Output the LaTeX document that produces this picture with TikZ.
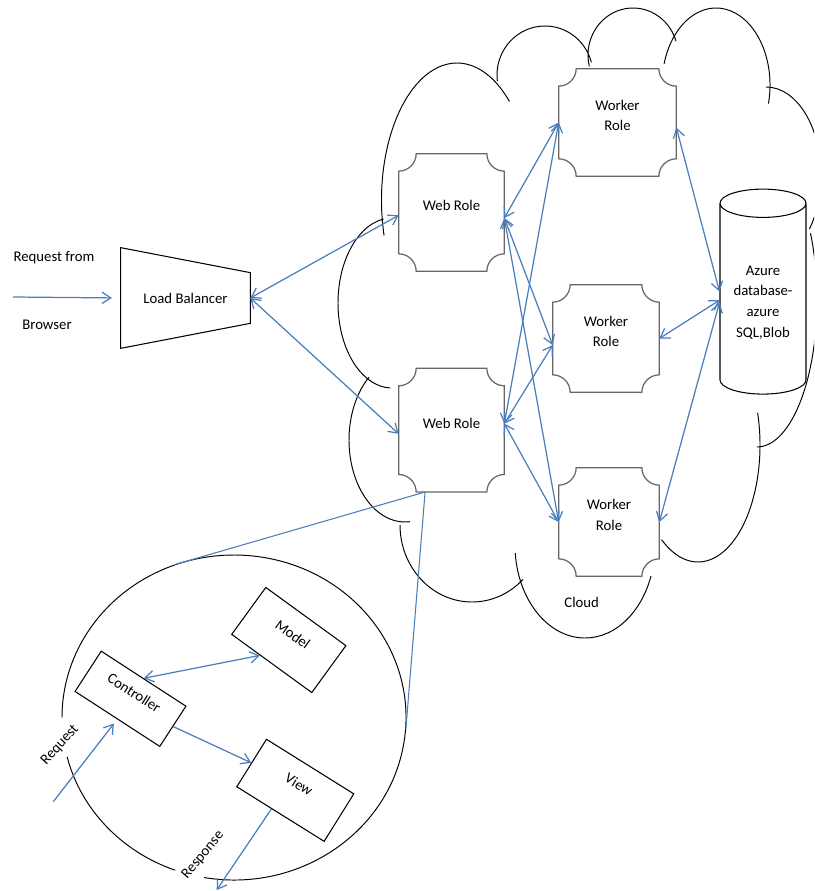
\documentclass[tikz,border=0pt]{standalone}
\usepackage{fontspec}
\setsansfont{Carlito}
\usetikzlibrary{positioning,shapes.geometric,arrows.meta,calc}
\definecolor{roleblue}{HTML}{4A7EBB}

\newcommand{\plaquer}{0.35cm}
\newcommand{\drawplaque}[1]{%
  \draw[plaqueline] ([yshift=-\plaquer]#1.north west) arc[start angle=-90, end angle=0, radius=\plaquer]
    -- ([xshift=-\plaquer]#1.north east) arc[start angle=180, end angle=270, radius=\plaquer]
    -- ([yshift=\plaquer]#1.south east) arc[start angle=90, end angle=180, radius=\plaquer]
    -- ([xshift=\plaquer]#1.south west) arc[start angle=0, end angle=90, radius=\plaquer]
    -- cycle;}

\begin{document}
\begin{tikzpicture}[
		x=0.02cm, y=0.02cm,
		every node/.style={font=\sffamily\fontsize{8.4}{11.7}\selectfont},
		role/.style={rectangle, fill=white, align=center, text depth=8pt},
		plaqueline/.style={draw=black!60, line width=0.7pt},
		boxline/.style={draw=black, line width=0.6pt},
		mvcbox/.style={rectangle, draw=black, fill=white, line width=0.6pt, text depth=8pt},
		cloudline/.style={draw=black, line width=0.55pt},
		arrow/.style={-{Straight Barb[length=5pt,width=6.5pt]}, draw=roleblue, line width=0.7pt},
		both/.style={{Straight Barb[length=5pt,width=6.5pt]}-{Straight Barb[length=5pt,width=6.5pt]}, draw=roleblue, line width=0.7pt},
		zoomline/.style={draw=roleblue, line width=0.6pt}
	]
	\useasboundingbox (0,0) rectangle (814,-891);
	\clip (0,0) rectangle (814,-891);

	% Cloud
	\draw[cloudline]
		([shift={(195:75.5 and 137)}]457,-200) arc[start angle=195, end angle=46, x radius=75.5, y radius=137]
		([shift={(187:48 and 49)}]545,-75) arc[start angle=187, end angle=15, x radius=48, y radius=49]
		([shift={(194:45 and 47)}]633,-55) arc[start angle=194, end angle=17, x radius=45, y radius=47]
		([shift={(164:54 and 77)}]716,-85) arc[start angle=164, end angle=-14, x radius=54, y radius=77]
		([shift={(90:55 and 88)}]766,-175) arc[start angle=90, end angle=-38, x radius=55, y radius=88]
		([shift={(27:60 and 147)}]757,-300) arc[start angle=27, end angle=-90, x radius=60, y radius=147]
		([shift={(16:62 and 117)}]698,-445) arc[start angle=16, end angle=-126, x radius=62, y radius=117]
		([shift={(185:70 and 93)}]585,-545) arc[start angle=185, end angle=349, x radius=70, y radius=93]
		([shift={(-45:72 and 77)}]472,-525) arc[start angle=-45, end angle=-180, x radius=72, y radius=77]
		([shift={(130:56 and 82)}]405,-440) arc[start angle=130, end angle=275, x radius=56, y radius=82]
		([shift={(99:54 and 85)}]392,-303) arc[start angle=99, end angle=268, x radius=54, y radius=85];
	\node (cloudlabel) at (581.7,-602.3) {Cloud};

	% Browser and load balancer
	\node (reqtop) at (54,-258) {Request from};
	\node (browser) at (47,-325) {Browser};
	\coordinate (reqin) at (13,-297);
	\node[minimum width=2.58cm, minimum height=2cm] (lb) at (185.5,-298) {Load Balancer};
	\draw[boxline] (lb.north west) -- ($(lb.north east)+(0,-25)$) -- ($(lb.south east)+(0,25)$) -- (lb.south west) -- cycle;

	% Roles
	\node[role, minimum width=2.1cm, minimum height=2.34cm] (web1) at (451.5,-212.5) {Web Role};
	\node[role, minimum width=2.1cm, minimum height=2.46cm, below=1.94cm of web1] (web2) {Web Role};
	\node[role, minimum width=2.34cm, minimum height=2.14cm] (worker1) at (617.5,-122.5) {Worker\\Role};
	\node[role, minimum width=2.12cm, minimum height=2.14cm] (worker2) at (606,-338.5) {Worker\\Role};
	\node[role, minimum width=2cm, minimum height=2.16cm] (worker3) at (609,-522) {Worker\\Role};
	\drawplaque{web1}
	\drawplaque{web2}
	\drawplaque{worker1}
	\drawplaque{worker2}
	\drawplaque{worker3}

	% Storage
	\node[cylinder, shape border rotate=90, aspect=0.4, draw=black, fill=white, line width=0.6pt,
		minimum width=1.72cm, minimum height=4.1cm, align=center] (db) at (763,-302.5) {Azure\\database-\\azure\\SQL,Blob};

	% MVC inside a web role
	\node[ellipse, minimum width=6.88cm, minimum height=6.5cm, inner sep=0pt] (mvc) at (234,-717.5) {};
	\draw[cloudline] ([shift={(260:172 and 162.5)}]mvc.center) arc[start angle=260, end angle=540, x radius=172, y radius=162.5];
	\draw[cloudline] ([shift={(194:172 and 162.5)}]mvc.center) arc[start angle=194, end angle=250, x radius=172, y radius=162.5];
	\node[mvcbox, minimum width=2.02cm, minimum height=0.96cm, rotate=-33] (controller) at (130.5,-698.8) {Controller};
	\node[mvcbox, minimum width=1.98cm, minimum height=1.16cm, rotate=-36] (model) at (288.8,-640) {Model};
	\node[mvcbox, minimum width=2.06cm, minimum height=1.12cm, rotate=-32] (view) at (295.3,-790.3) {View};
	\node[rotate=48] (reqlabel) at (60,-745) {Request};
	\node[rotate=50] (resplabel) at (203,-855) {Response};
	\coordinate (mvcreq) at (53.3,-801.7);
	\coordinate (mvcresp) at (216.7,-890);
	\coordinate (viewout) at ($(view.south west)!0.4!(view.south east)$);
	\coordinate (web2tip) at ($(web2.south west)!0.25!(web2.south east)$);

	% Arrows
	\draw[arrow, shorten >=5pt] (reqin) -- (lb.west);
	\draw[both] (lb.east) -- (web1.183);
	\draw[both] (lb.east) -- (web2.184);

	\draw[both] (web1.354) -- (worker1.west);
	\draw[both] (web1.354) -- (worker2.187);
	\draw[both] (web1.354) -- (worker3.west);
	\draw[both] (web2.7) -- (worker1.west);
	\draw[both] (web2.7) -- (worker2.187);
	\draw[both] (web2.7) -- (worker3.west);

	\draw[both] (worker1.355) -- (db.166);
	\draw[both] (worker2.east) -- (db.177);
	\draw[both] (worker3.east) -- (db.west);

	\draw[zoomline] (web2tip) -- (mvc.111);
	\draw[zoomline] (web2tip) -- (mvc.356);

	\draw[both] (controller.north) -- (model.244);
	\draw[arrow] (controller.east) -- (view.west);
	\draw[arrow, shorten >=3pt] (mvcreq) -- (controller.south);
	\draw[arrow] (viewout) -- (mvcresp);

\end{tikzpicture}
\end{document}
